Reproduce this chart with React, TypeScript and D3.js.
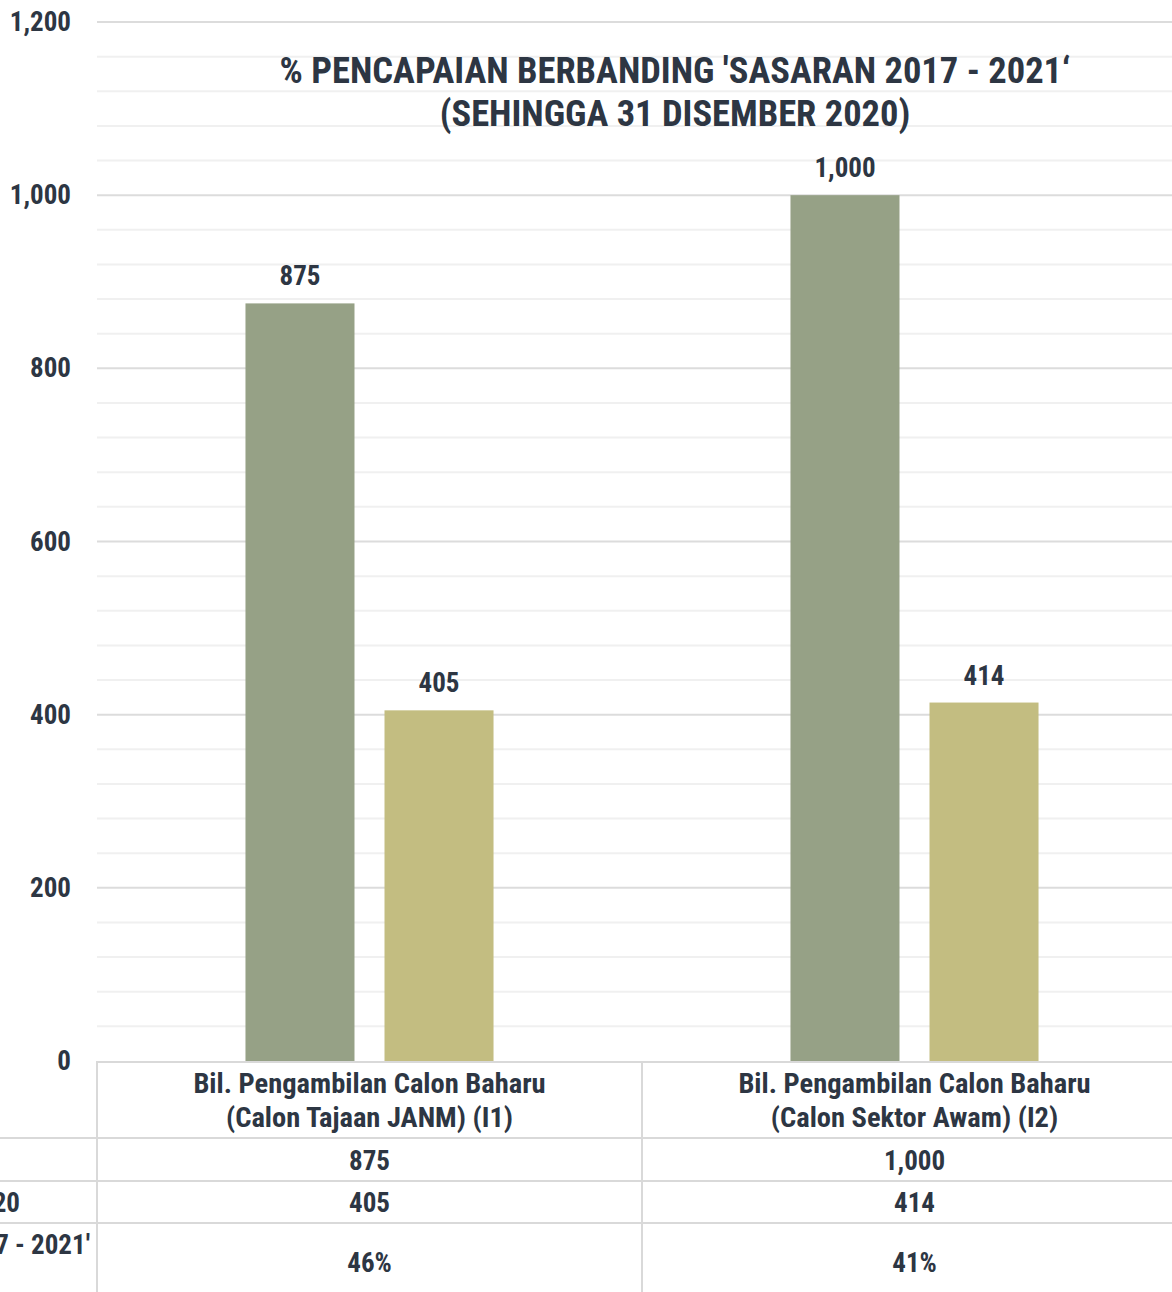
import * as d3 from "d3";
import { useEffect, useRef } from "react";

const categories = [
  ["Bil. Pengambilan Calon Baharu", "(Calon Tajaan JANM) (I1)"],
  ["Bil. Pengambilan Calon Baharu", "(Calon Sektor Awam)  (I2)"],
];
const seriesNames = [
  "Sasaran 2017 - 2021",
  "Pencapaian Sehingga 31 Disember 2020",
];
const sasaran = [875, 1000];
const pencapaian = [405, 414];
const peratus = [46, 41];
const rowLabels = [
  "Sasaran 2017 - 2021",
  "Pencapaian Sehingga 31 Disember 2020",
  "% Pencapaian Berbanding 'Sasaran 2017 - 2021'",
];
const yTicks = [0, 200, 400, 600, 800, 1000, 1200];
const titleLines = [
  "% PENCAPAIAN BERBANDING 'SASARAN 2017 - 2021‘",
  "(SEHINGGA 31 DISEMBER 2020)",
];

const W = 1172;
const H = 1292;
const FONT =
  "'Liberation Sans Narrow', 'Arial Narrow', 'Roboto Condensed', 'DejaVu Sans Condensed', sans-serif";
const TEXT = "#2d3643";
const colors = ["#96a186", "#c3bd81"];
const margin = { left: 97, top: 22, bottom: 1061 };

const App = () => {
  const svgRef = useRef(null);

  useEffect(() => {
    const svg = d3.select(svgRef.current);
    svg.selectAll("*").remove();

    const y = d3.scaleLinear().domain([0, 1200]).range([margin.bottom, margin.top]);
    const x0 = d3
      .scaleBand()
      .domain(categories.map((_, i) => String(i)))
      .range([margin.left, margin.left + 545 * 2])
      .padding(0);
    const x1 = d3
      .scaleBand()
      .domain(seriesNames)
      .range([0, x0.bandwidth()])
      .paddingInner(30 / 139)
      .paddingOuter(1.068);

    // gridlines: minor every 40, major every 200
    const minor = d3.range(0, 1201, 40).filter((v) => v % 200 !== 0);
    svg
      .append("g")
      .selectAll("line")
      .data(minor)
      .join("line")
      .attr("x1", margin.left)
      .attr("x2", W)
      .attr("y1", (d) => y(d))
      .attr("y2", (d) => y(d))
      .attr("stroke", "#f0f0f0")
      .attr("stroke-width", 2);
    svg
      .append("g")
      .selectAll("line")
      .data(yTicks.filter((d) => d > 0))
      .join("line")
      .attr("x1", margin.left)
      .attr("x2", W)
      .attr("y1", (d) => y(d))
      .attr("y2", (d) => y(d))
      .attr("stroke", "#dcdcdc")
      .attr("stroke-width", 2);

    // y labels
    svg
      .append("g")
      .selectAll("text")
      .data(yTicks)
      .join("text")
      .attr("x", 71)
      .attr("y", (d) => y(d) + 9)
      .attr("text-anchor", "end")
      .attr("font-family", FONT)
      .attr("font-weight", "bold")
      .attr("font-size", 27)
      .attr("fill", TEXT)
      .text((d) => d3.format(",")(d));

    // title
    svg
      .append("g")
      .selectAll("text")
      .data(titleLines)
      .join("text")
      .attr("x", 675)
      .attr("y", (_, i) => 83 + i * 43)
      .attr("text-anchor", "middle")
      .attr("font-family", FONT)
      .attr("font-weight", "bold")
      .attr("font-size", 36.5)
      .attr("fill", TEXT)
      .text((d) => d);

    // bars
    const rows = categories.map((_, i) => [sasaran[i], pencapaian[i]]);
    const groups = svg
      .append("g")
      .selectAll("g")
      .data(rows)
      .join("g")
      .attr("transform", (_, i) => `translate(${x0(String(i))},0)`);
    groups
      .selectAll("rect")
      .data((d) => d)
      .join("rect")
      .attr("x", (_, j) => x1(seriesNames[j]))
      .attr("width", x1.bandwidth())
      .attr("y", (d) => y(d))
      .attr("height", (d) => y(0) - y(d))
      .attr("fill", (_, j) => colors[j]);
    groups
      .selectAll("text")
      .data((d) => d)
      .join("text")
      .attr("x", (_, j) => x1(seriesNames[j]) + x1.bandwidth() / 2)
      .attr("y", (d) => y(d) - 18)
      .attr("text-anchor", "middle")
      .attr("font-family", FONT)
      .attr("font-weight", "bold")
      .attr("font-size", 27)
      .attr("fill", TEXT)
      .text((d) => d3.format(",")(d));

    // data table
    const table = svg.append("g");
    const lineColor = "#d9d9d9";
    table
      .append("line")
      .attr("x1", margin.left)
      .attr("x2", W)
      .attr("y1", y(0) + 1)
      .attr("y2", y(0) + 1)
      .attr("stroke", lineColor)
      .attr("stroke-width", 2);
    [1138, 1181, 1223].forEach((ly) => {
      table
        .append("line")
        .attr("x1", 0)
        .attr("x2", W)
        .attr("y1", ly)
        .attr("y2", ly)
        .attr("stroke", lineColor)
        .attr("stroke-width", 2);
    });
    categories.forEach((_, i) => {
      const x = x0(String(i));
      table
        .append("line")
        .attr("x1", x)
        .attr("x2", x)
        .attr("y1", y(0))
        .attr("y2", H)
        .attr("stroke", lineColor)
        .attr("stroke-width", 2);
    });

    const cx = (i) => x0(String(i)) + x0.bandwidth() / 2;
    const txt = (sel, x, yy, s, anchor = "middle", size = 27) =>
      sel
        .append("text")
        .attr("x", x)
        .attr("y", yy)
        .attr("text-anchor", anchor)
        .attr("font-family", FONT)
        .attr("font-weight", "bold")
        .attr("font-size", size)
        .attr("fill", TEXT)
        .text(s);

    categories.forEach((lines, i) => {
      lines.forEach((l, k) => txt(table, cx(i), 1093 + k * 34, l, "middle", 28.5));
      txt(table, cx(i), 1170, d3.format(",")(sasaran[i]));
      txt(table, cx(i), 1212, d3.format(",")(pencapaian[i]));
      txt(table, cx(i), 1272, `${peratus[i]}%`);
    });

    // row labels (left part falls outside the picture, as in the original)
    txt(table, -60, 1170, rowLabels[0], "end");
    txt(table, 20, 1212, rowLabels[1], "end");
    txt(table, 90, 1254, rowLabels[2], "end");
  }, []);

  return (
    <svg
      ref={svgRef}
      width={W}
      height={H}
      style={{ position: "absolute", left: 0, top: 0, background: "#fff" }}
    />
  );
};

export default App;
